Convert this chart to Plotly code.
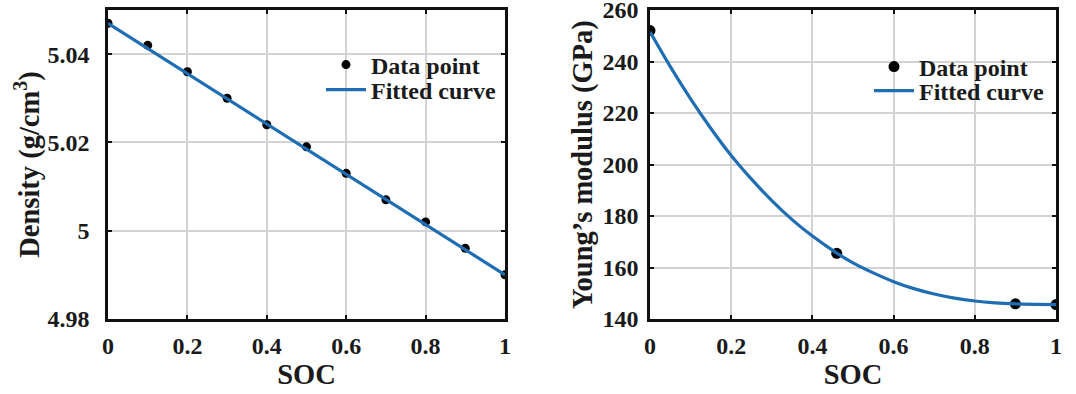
import plotly.graph_objects as go

# ---- Left panel: density vs SOC ----
soc_density = [0, 0.1, 0.2, 0.3, 0.4, 0.5, 0.6, 0.7, 0.8, 0.9, 1.0]
density = [5.047, 5.042, 5.036, 5.030, 5.024, 5.019, 5.013, 5.007, 5.002, 4.996, 4.990]
fit_density_x = [0, 1.0]
fit_density_y = [5.047, 4.990]

# ---- Right panel: Young's modulus vs SOC ----
soc_modulus = [0, 0.46, 0.9, 1.0]
modulus = [252, 165.5, 145.9, 145.6]
fit_modulus_x = [0, 0.05, 0.1, 0.15, 0.2, 0.25, 0.3, 0.35, 0.4, 0.46, 0.5,
                 0.55, 0.6, 0.65, 0.7, 0.75, 0.8, 0.85, 0.9, 0.95, 1.0]
fit_modulus_y = [251.5, 238.0, 225.5, 214.0, 203.5, 194.3, 186.0, 178.6, 172.2, 165.6, 161.8,
                 157.9, 154.5, 151.8, 149.7, 148.1, 147.0, 146.3, 145.9, 145.7, 145.6]

x_ticks = [0, 0.2, 0.4, 0.6, 0.8, 1.0]
x_ticktext = ["0", "0.2", "0.4", "0.6", "0.8", "1"]
dens_ticks = [4.98, 5.00, 5.02, 5.04]
dens_ticktext = ["4.98", "5", "5.02", "5.04"]
mod_ticks = [140, 160, 180, 200, 220, 240, 260]

BLUE = "#1f6db3"
FONT = "Liberation Serif"
TXT = "#1a1a1a"

fig = go.Figure()

fig.add_trace(go.Scatter(x=soc_density, y=density, mode="markers", name="Data point",
                         marker=dict(color="black", size=9), xaxis="x", yaxis="y",
                         legend="legend", showlegend=True))
fig.add_trace(go.Scatter(x=fit_density_x, y=fit_density_y, mode="lines", name="Fitted curve",
                         line=dict(color=BLUE, width=3.2), xaxis="x", yaxis="y",
                         legend="legend2", showlegend=True))
fig.add_trace(go.Scatter(x=soc_modulus, y=modulus, mode="markers", name="Data point",
                         marker=dict(color="black", size=11), xaxis="x2", yaxis="y2",
                         legend="legend3", showlegend=True))
fig.add_trace(go.Scatter(x=fit_modulus_x, y=fit_modulus_y, mode="lines", name="Fitted curve",
                         line=dict(color=BLUE, width=3.2, shape="spline"), xaxis="x2", yaxis="y2",
                         legend="legend4", showlegend=True))

W, H = 1076, 394
ydom = [1 - 319 / H, 1 - 10 / H]

axis_common = dict(
    showline=True, linecolor="#111", linewidth=2.5, mirror="ticks",
    ticks="inside", ticklen=4, tickwidth=2, tickcolor="#111",
    showgrid=True, gridcolor="#d3d3d3", gridwidth=2,
    zeroline=False, automargin=False, ticklabeloverflow="allow",
    tickfont=dict(family=FONT, size=24, color=TXT, weight="bold"),
)
title_font = dict(family=FONT, size=28.5, color=TXT, weight="bold")
leg_font = dict(family=FONT, size=24, color=TXT, weight="bold")


def leg(x, y):
    return dict(x=x / W, y=1 - y / H, xanchor="left", yanchor="middle",
                bgcolor="rgba(255,255,255,0)", borderwidth=0, font=leg_font, itemwidth=40)


fig.update_layout(
    width=W, height=H,
    showlegend=True,
    margin=dict(l=0, r=0, t=0, b=0),
    paper_bgcolor="white", plot_bgcolor="white",
    font=dict(family=FONT, color=TXT, weight="bold"),
    xaxis=dict(domain=[108 / W, 505 / W], range=[0, 1], tickvals=x_ticks, ticktext=x_ticktext,
               title=dict(text="SOC", font=title_font, standoff=6),
               anchor="y", ticklabelstandoff=3, **axis_common),
    yaxis=dict(domain=ydom, range=[4.98, 5.05], tickvals=dens_ticks, ticktext=dens_ticktext,
               title=dict(text="Density (g/cm<sup>3</sup>)", font=title_font, standoff=0),
               anchor="x", ticklabelstandoff=11, **axis_common),
    xaxis2=dict(domain=[650 / W, 1056 / W], range=[0, 1], tickvals=x_ticks, ticktext=x_ticktext,
                title=dict(text="SOC", font=title_font, standoff=6),
                anchor="y2", ticklabelstandoff=3, **axis_common),
    yaxis2=dict(domain=ydom, range=[140, 260], tickvals=mod_ticks,
                title=dict(text="Young’s modulus (GPa)", font=title_font, standoff=2),
                anchor="x2", ticklabelstandoff=4, **axis_common),
    legend=leg(321, 65),
    legend2=leg(321, 90),
    legend3=leg(869, 67),
    legend4=leg(869, 91),
)

fig.write_html("out.html", config={"displayModeBar": False},
               post_script="document.body.style.margin='0';")
